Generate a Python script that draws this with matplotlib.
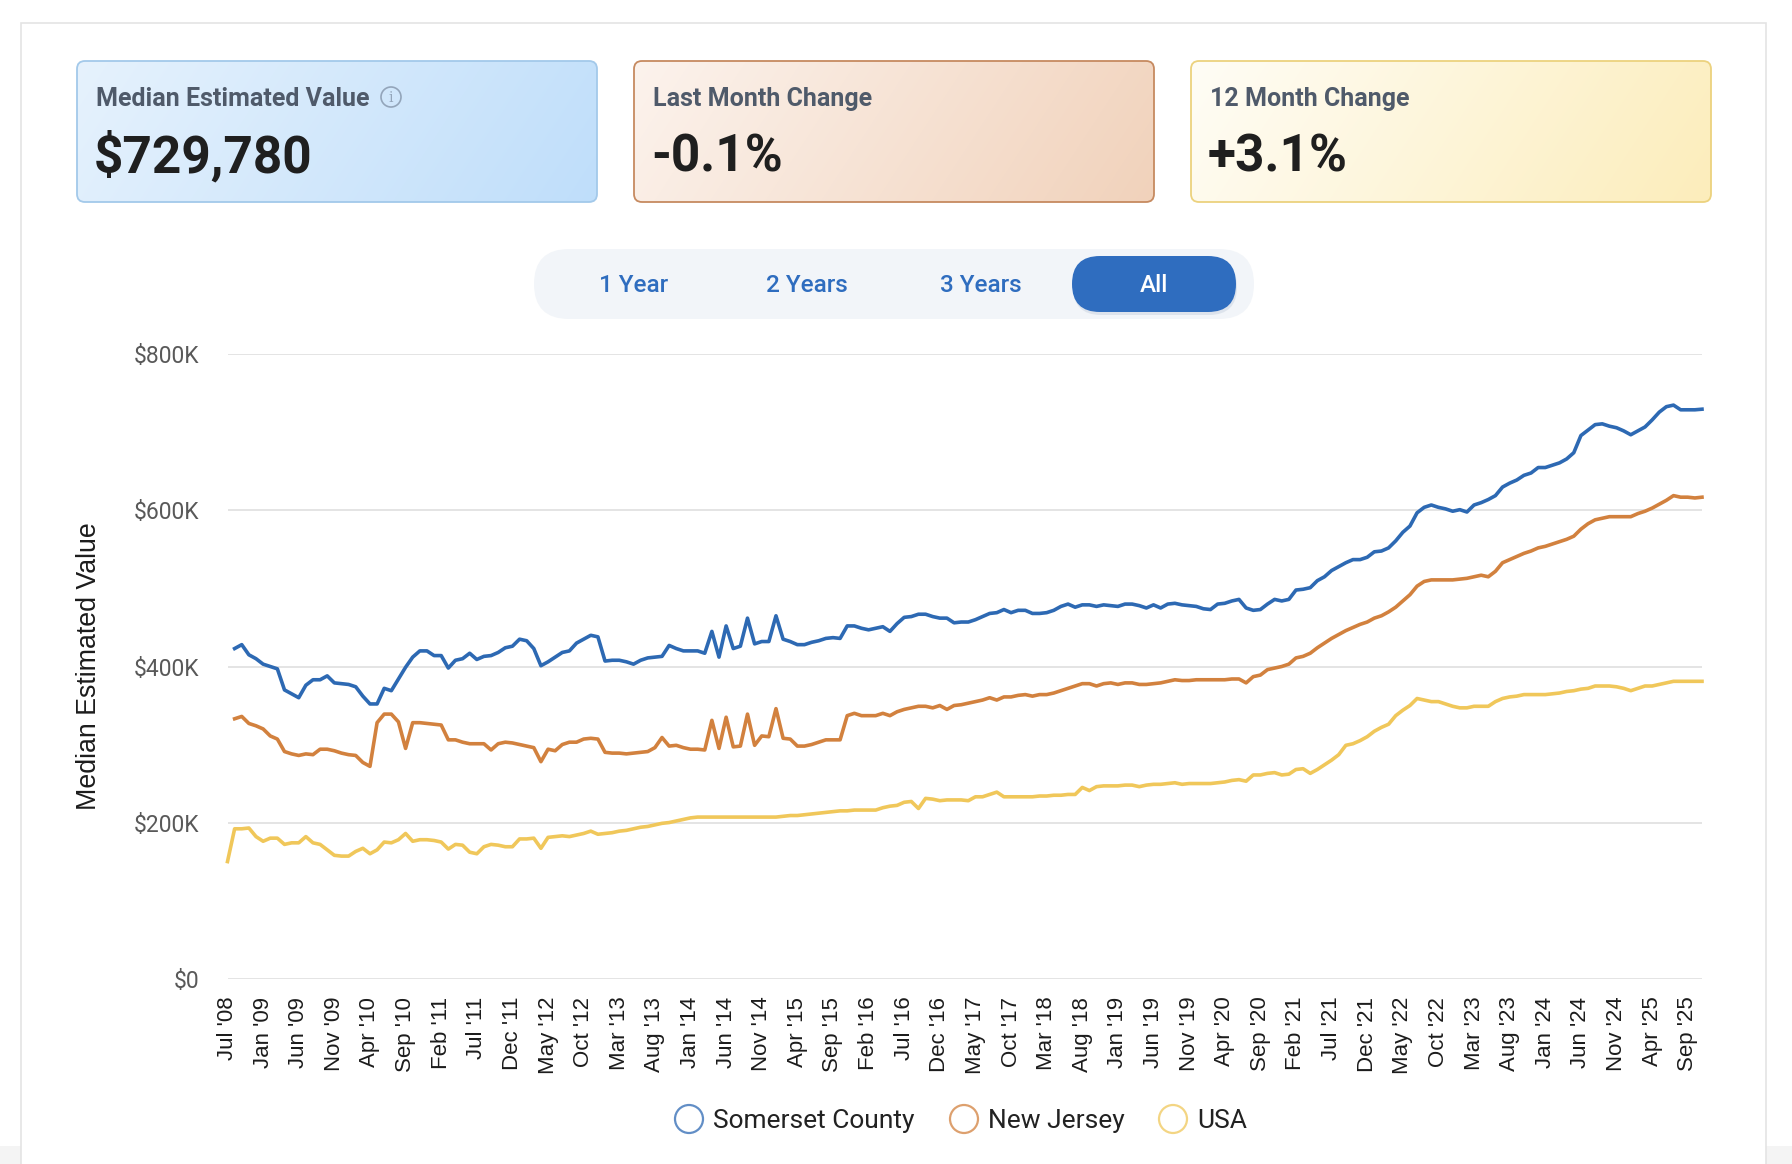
import matplotlib
matplotlib.use("Agg")
import matplotlib.pyplot as plt
import numpy as np
from matplotlib.patches import FancyBboxPatch, Circle, Rectangle
from matplotlib.colors import to_rgb

# values in $K, one per month (index 0 = Jul '08)
somerset = [np.nan,
    423, 428, 415, 410, 403, 400, 397, 370, 365, 360, 376, 383, 383, 388, 379, 378, 377, 374, 362, 352,
    352, 372, 369, 384, 399, 412, 420, 420, 414, 414, 398, 408, 410, 417, 409, 413, 414, 418, 424, 426,
    435, 433, 423, 401, 406, 412, 418, 420, 430, 435, 440, 438, 407, 408, 408, 406, 403, 408, 411, 412,
    413, 427, 423, 420, 420, 420, 417, 445, 412, 452, 423, 426, 462, 429, 432, 432, 465, 435, 432, 428,
    428, 431, 433, 436, 437, 436, 452, 452, 449, 447, 449, 451, 445, 455, 463, 464, 467, 467, 464, 462,
    462, 456, 457, 457, 460, 464, 468, 469, 473, 469, 472, 472, 468, 468, 469, 472, 477, 480, 476, 479,
    479, 477, 479, 478, 477, 480, 480, 478, 475, 479, 475, 480, 481, 479, 478, 477, 474, 473, 480, 481,
    484, 486, 475, 472, 473, 480, 486, 484, 486, 498, 499, 501, 510, 515, 523, 528, 533, 537, 537, 540,
    547, 548, 552, 561, 572, 580, 597, 604, 607, 604, 602, 599, 601, 598, 607, 610, 614, 619, 630, 635,
    639, 645, 648, 655, 655, 658, 661, 666, 674, 696, 703, 710, 711, 708, 706, 702, 697, 702, 707, 716,
    726, 733, 735, 729, 729, 729, 729.78]

new_jersey = [np.nan,
    333, 336, 327, 324, 320, 311, 307, 291, 288, 286, 288, 287, 294, 294, 292, 289, 287, 286, 277, 272,
    328, 339, 339, 329, 295, 328, 328, 327, 326, 325, 306, 306, 303, 301, 301, 301, 293, 301, 303, 302,
    300, 298, 296, 278, 294, 292, 300, 303, 303, 307, 308, 307, 290, 289, 289, 288, 289, 290, 291, 296,
    309, 298, 299, 296, 294, 294, 293, 331, 295, 335, 297, 298, 339, 299, 311, 310, 346, 308, 307, 298,
    298, 300, 303, 306, 306, 306, 337, 340, 337, 337, 337, 340, 337, 342, 345, 347, 349, 349, 347, 350,
    345, 350, 351, 353, 355, 357, 360, 357, 361, 361, 363, 364, 362, 364, 364, 366, 369, 372, 375, 378,
    378, 375, 378, 379, 377, 379, 379, 377, 377, 378, 379, 381, 383, 382, 382, 383, 383, 383, 383, 383,
    384, 384, 379, 387, 389, 396, 398, 400, 403, 411, 413, 417, 424, 430, 436, 441, 446, 450, 454, 457,
    462, 465, 470, 476, 484, 492, 503, 509, 511, 511, 511, 511, 512, 513, 515, 517, 515, 522, 533, 537,
    541, 545, 548, 552, 554, 557, 560, 563, 567, 576, 583, 588, 590, 592, 592, 592, 592, 596, 599, 603,
    608, 613, 619, 617, 617, 616, 617]

usa = [150,
    192, 192, 193, 182, 176, 180, 180, 172, 174, 174, 182, 174, 172, 165, 158, 157, 157, 163, 167, 160,
    165, 175, 174, 178, 186, 176, 178, 178, 177, 175, 166, 172, 171, 162, 160, 169, 172, 171, 169, 169,
    179, 179, 180, 167, 181, 182, 183, 182, 184, 186, 189, 185, 186, 187, 189, 190, 192, 194, 195, 197,
    199, 200, 202, 204, 206, 207, 207, 207, 207, 207, 207, 207, 207, 207, 207, 207, 207, 208, 209, 209,
    210, 211, 212, 213, 214, 215, 215, 216, 216, 216, 216, 219, 221, 222, 226, 227, 218, 231, 230, 228,
    229, 229, 229, 228, 233, 233, 236, 239, 233, 233, 233, 233, 233, 234, 234, 235, 235, 236, 236, 245,
    241, 246, 247, 247, 247, 248, 248, 246, 248, 249, 249, 250, 251, 249, 250, 250, 250, 250, 251, 252,
    254, 255, 253, 261, 261, 263, 264, 261, 262, 268, 269, 263, 268, 274, 280, 287, 299, 301, 305, 310,
    317, 322, 326, 337, 344, 350, 359, 357, 355, 355, 352, 349, 347, 347, 349, 349, 349, 355, 359, 361,
    362, 364, 364, 364, 364, 365, 366, 368, 369, 371, 372, 375, 375, 375, 374, 372, 369, 372, 375, 375,
    377, 379, 381, 381, 381, 381, 381]

tick_labels = ["Jul '08", "Jan '09", "Jun '09", "Nov '09", "Apr '10", "Sep '10", "Feb '11", "Jul '11",
               "Dec '11", "May '12", "Oct '12", "Mar '13", "Aug '13", "Jan '14", "Jun '14", "Nov '14",
               "Apr '15", "Sep '15", "Feb '16", "Jul '16", "Dec '16", "May '17", "Oct '17", "Mar '18",
               "Aug '18", "Jan '19", "Jun '19", "Nov '19", "Apr '20", "Sep '20", "Feb '21", "Jul '21",
               "Dec '21", "May '22", "Oct '22", "Mar '23", "Aug '23", "Jan '24", "Jun '24", "Nov '24",
               "Apr '25", "Sep '25"]

series_names = ["Somerset County", "New Jersey", "USA"]
colors = ["#2d69b3", "#d2813e", "#f0c75a"]

y_ticks = [0, 200, 400, 600, 800]
y_labels = ["$0", "$200K", "$400K", "$600K", "$800K"]

card_titles = ["Median Estimated Value", "Last Month Change", "12 Month Change"]
card_values = ["$729,780", "-0.1%", "+3.1%"]
buttons = ["1 Year", "2 Years", "3 Years", "All"]

W, H = 1792, 1164
fig = plt.figure(figsize=(W / 100, H / 100), dpi=100)
fig.patch.set_facecolor("white")

# background layer in pixel coordinates
bg = fig.add_axes([0, 0, 1, 1])
bg.set_xlim(0, W)
bg.set_ylim(H, 0)
bg.axis("off")

bg.add_patch(Rectangle((0, 1146), W, 20, fc="#f4f4f4", ec="none", zorder=0))
bg.add_patch(Rectangle((21, 23), 1745, 1200, fc="white", ec="#e4e4e4", lw=1.2, zorder=0.5))


def card(x, y, w, h, c1, c2, edge):
    patch = FancyBboxPatch((x, y), w, h, boxstyle="round,pad=0,rounding_size=8",
                           fc="none", ec=edge, lw=1.3, zorder=3)
    bg.add_patch(patch)
    gx, gy = np.meshgrid(np.linspace(0, 1, 300), np.linspace(0, 1, 80))
    t = np.clip(0.85 * gx + 0.15 * gy, 0, 1)[..., None]
    a, b = np.array(to_rgb(c1)), np.array(to_rgb(c2))
    im = bg.imshow(a + (b - a) * t, extent=(x, x + w, y + h, y), aspect="auto",
                   interpolation="bilinear", zorder=2)
    im.set_clip_path(patch)


card_x = [77, 634, 1191]
card_cols = [("#e6f2fd", "#bfdefa", "#a3c9ea"),
             ("#fcf3ed", "#f1d2bb", "#c68a60"),
             ("#fffdf6", "#fcedbb", "#ecd27e")]
for i in range(3):
    card(card_x[i], 61, 520, 141, *card_cols[i])
    bg.text(card_x[i] + 19, 99, card_titles[i], fontsize=18, fontweight="bold",
            color="#4f5a6a", va="center", family="Roboto", zorder=5)
    bg.text(card_x[i] + 17, 157, card_values[i], fontsize=37, fontweight="bold",
            color="#1f1f1f", va="center", family="Roboto", zorder=5)

# info icon
bg.add_patch(Circle((391, 97), 10, fill=False, ec="#93a5ba", lw=1.2, zorder=5))
bg.text(391, 98, "i", fontsize=10, color="#93a5ba", ha="center", va="center",
        family="DejaVu Serif", zorder=5)

# range buttons
bg.add_patch(FancyBboxPatch((534, 249), 720, 70, boxstyle="round,pad=0,rounding_size=35",
                            fc="#f2f5f9", ec="none", zorder=2))
bg.add_patch(FancyBboxPatch((1073, 259), 164, 56, boxstyle="round,pad=0,rounding_size=28",
                            fc="#c9d3e0", ec="none", alpha=0.5, zorder=2.5))
bg.add_patch(FancyBboxPatch((1072, 256), 164, 56, boxstyle="round,pad=0,rounding_size=28",
                            fc="#2f6dbf", ec="none", zorder=3))
btn_x = [634, 807, 981, 1154]
for i, b in enumerate(buttons):
    bg.text(btn_x[i], 286, b, fontsize=17.5, fontweight="medium",
            color="white" if b == "All" else "#2f6dbf",
            ha="center", va="center", family="Roboto", zorder=5)

# main chart
ax = fig.add_axes([227.5 / W, 1 - 978.6 / H, (1702 - 227.5) / W, (978.6 - 354.4) / H])
ax.patch.set_alpha(0)
x = np.arange(len(usa))
for vals, c in zip([usa, new_jersey, somerset], colors[::-1]):
    ax.plot(x, vals, color=c, lw=2.6, solid_joinstyle="round", clip_on=False)

ax.set_xlim(0, len(usa) - 1)
ax.set_ylim(0, 800)
ax.set_yticks(y_ticks)
ax.set_yticklabels(y_labels, fontsize=16.5, color="#595959", family="Roboto")
ax.set_xticks(np.arange(0, 5 * len(tick_labels), 5))
ax.set_xticklabels(tick_labels, rotation=90, fontsize=16, color="#1c1c1c",
                   family="Liberation Sans")
ax.tick_params(axis="both", length=0)
ax.tick_params(axis="y", pad=20)
ax.tick_params(axis="x", pad=13)
ax.yaxis.grid(True, color="#e2e2e2", lw=1.3)
ax.set_axisbelow(True)
for s in ax.spines.values():
    s.set_visible(False)

fig.text(89 / W, 1 - 666 / H, "Median Estimated Value", rotation=90, fontsize=19.3,
         color="#1c1c1c", ha="center", va="center", family="Liberation Sans")

# legend
leg_x = [689, 964, 1173]
for i in range(3):
    bg.add_patch(Circle((leg_x[i], 1119), 14, fill=False, ec=colors[i], alpha=0.75,
                        lw=1.6, zorder=5))
    bg.text(leg_x[i] + 24, 1121, series_names[i], fontsize=19, color="#222222",
            va="center", family="Roboto", zorder=5)

fig.savefig("out.png", dpi=100)
